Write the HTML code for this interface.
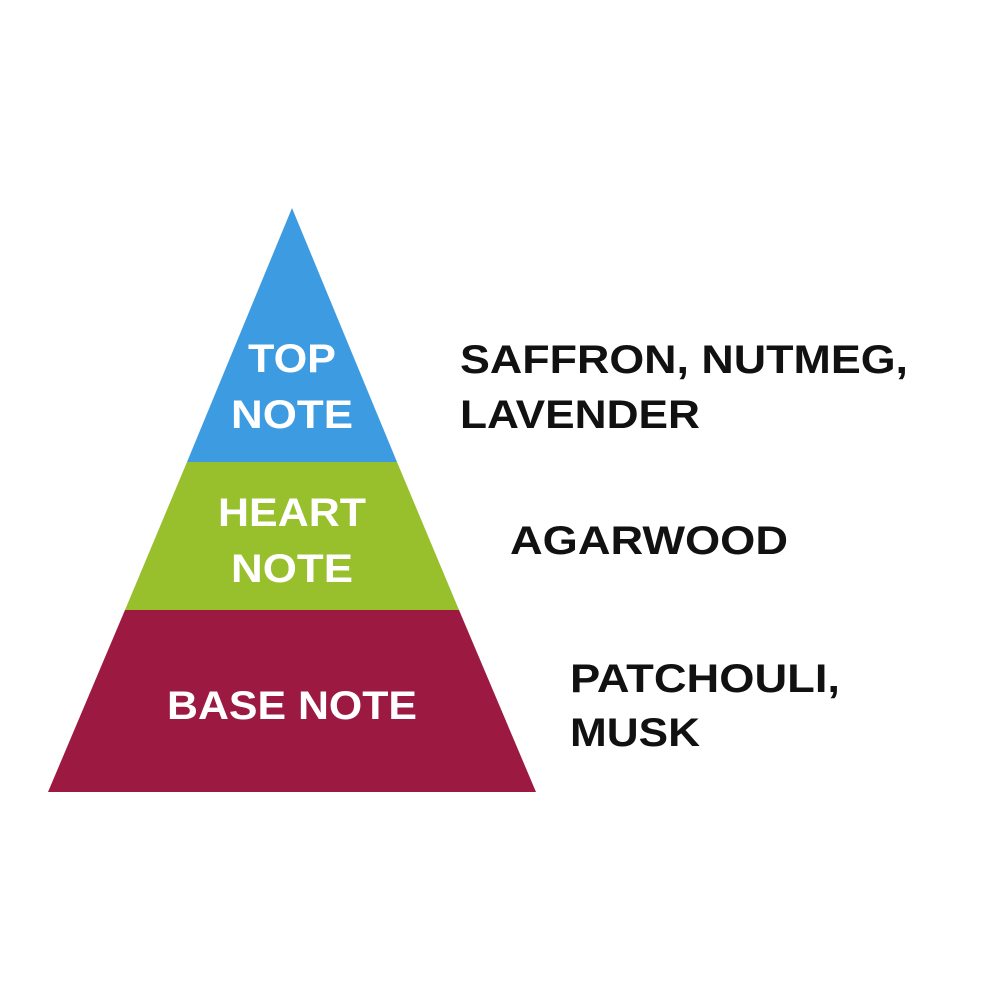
<!DOCTYPE html>
<html><head><meta charset="utf-8"><style>
html,body{margin:0;padding:0;background:#fff;}
svg{display:block;}
text{font-family:"Liberation Sans",sans-serif;font-weight:bold;font-size:40px;}
</style></head><body>
<svg width="1000" height="1000" viewBox="0 0 1000 1000">
<polygon points="292,208 397,462 187,462" fill="#3d9be2"/>
<polygon points="187,462 397,462 459,610 125,610" fill="#97c02c"/>
<polygon points="125,610 459,610 536,792 48,792" fill="#9c1a42"/>
<g fill="#fff" text-anchor="middle">
<text x="292" y="372" textLength="88" lengthAdjust="spacingAndGlyphs">TOP</text>
<text x="292" y="428" textLength="122" lengthAdjust="spacingAndGlyphs">NOTE</text>
<text x="292" y="526" textLength="148" lengthAdjust="spacingAndGlyphs">HEART</text>
<text x="292" y="582" textLength="122" lengthAdjust="spacingAndGlyphs">NOTE</text>
<text x="292" y="719" textLength="250" lengthAdjust="spacingAndGlyphs">BASE NOTE</text>
</g>
<g fill="#111">
<text x="460" y="373" textLength="448" lengthAdjust="spacingAndGlyphs">SAFFRON, NUTMEG,</text>
<text x="460" y="428" textLength="240" lengthAdjust="spacingAndGlyphs">LAVENDER</text>
<text x="510" y="554" textLength="278" lengthAdjust="spacingAndGlyphs">AGARWOOD</text>
<text x="570" y="692" textLength="270" lengthAdjust="spacingAndGlyphs">PATCHOULI,</text>
<text x="570" y="746" textLength="130" lengthAdjust="spacingAndGlyphs">MUSK</text>
</g>
</svg>
</body></html>
